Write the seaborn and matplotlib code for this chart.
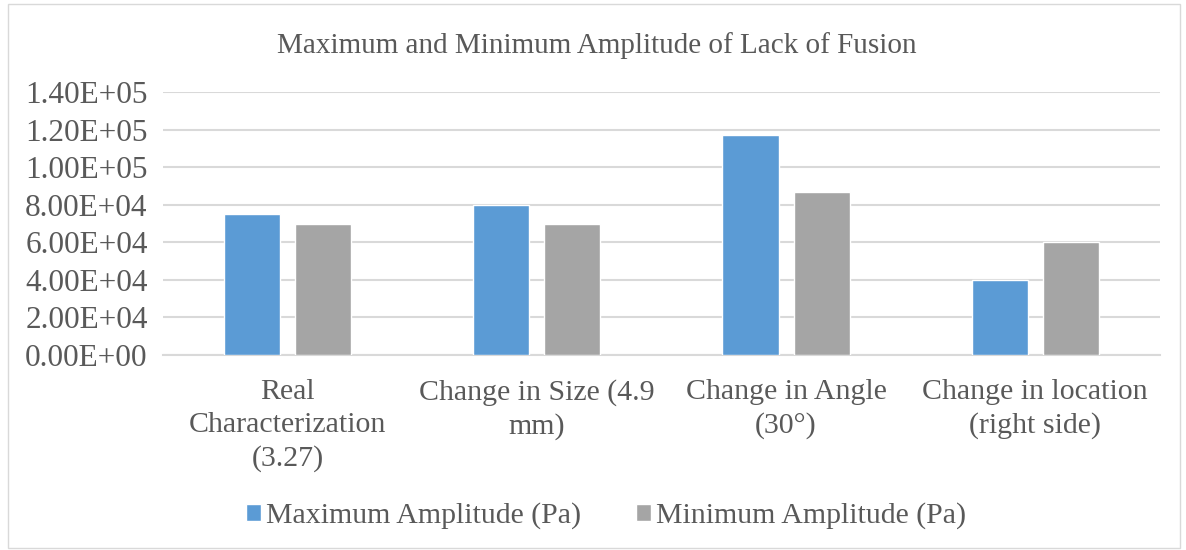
import matplotlib
matplotlib.use('Agg')
from matplotlib import pyplot as plt
from matplotlib.patches import Rectangle
import seaborn as sns
import pandas as pd

categories = ['Real\nCharacterization\n(3.27)', 'Change in Size (4.9\nmm)',
              'Change in Angle\n(30°)', 'Change in location\n(right side)']
max_amp = [75000, 80000, 117000, 40000]
min_amp = [70000, 70000, 87000, 60000]
series = ['Maximum Amplitude (Pa)', 'Minimum Amplitude (Pa)']
yticks = [0, 20000, 40000, 60000, 80000, 100000, 120000, 140000]

rows = []
for i in range(len(categories)):
    rows.append([categories[i], series[0], max_amp[i]])
    rows.append([categories[i], series[1], min_amp[i]])
df = pd.DataFrame(rows, columns=['Category', 'Series', 'Value'])

sns.set_style('white')
plt.rcParams['font.family'] = ['Liberation Serif', 'DejaVu Serif']
txt = '#595959'

fig = plt.figure(figsize=(11.86, 5.5), dpi=100)
ax = fig.add_axes([0.1374, 0.3545, 0.978 - 0.1374, 0.8327 - 0.3545])
sns.barplot(data=df, x='Category', y='Value', hue='Series', ax=ax,
            palette=['#5B9BD5', '#A5A5A5'], width=0.57, gap=0.21,
            saturation=1, errorbar=None, zorder=3)

ax.set_ylim(0, 140000)
ax.set_yticks(yticks)
ax.set_yticklabels(['%.2fE+%02d' % (v / 10 ** (len(str(v)) - 1) if v else 0, len(str(v)) - 1 if v else 0)
                    for v in yticks])
ax.yaxis.grid(True, color='#d9d9d9', linewidth=1.5, zorder=0)
ax.set_axisbelow(True)
for s in ['top', 'right', 'left']:
    ax.spines[s].set_visible(False)
ax.spines['bottom'].set_color('#d9d9d9')
ax.spines['bottom'].set_linewidth(1.5)
ax.tick_params(axis='both', length=0, colors=txt)
ax.tick_params(axis='y', pad=11, labelsize=22.5)
ax.tick_params(axis='x', pad=17.5, labelsize=21.5)
for lab in ax.get_xticklabels():
    lab.set_linespacing(1.35)
ax.set_xlabel('')
ax.set_ylabel('')

fig.text(0.503, 0.918, 'Maximum and Minimum Amplitude of Lack of Fusion',
         ha='center', va='center', fontsize=21, color=txt)

handles, labels = ax.get_legend_handles_labels()
ax.legend_.remove()
fig.legend(handles, labels, loc='center', bbox_to_anchor=(0.511, 0.062), ncol=2,
           frameon=False, fontsize=21.5, labelcolor=txt, handlelength=0.5,
           handleheight=0.5, handletextpad=0.15, columnspacing=1.85)

fig.patches.append(Rectangle((0.007, 0.004), 0.988, 0.988, transform=fig.transFigure,
                             fill=False, edgecolor='#d9d9d9', linewidth=1))

fig.savefig('out.png', dpi=100)
